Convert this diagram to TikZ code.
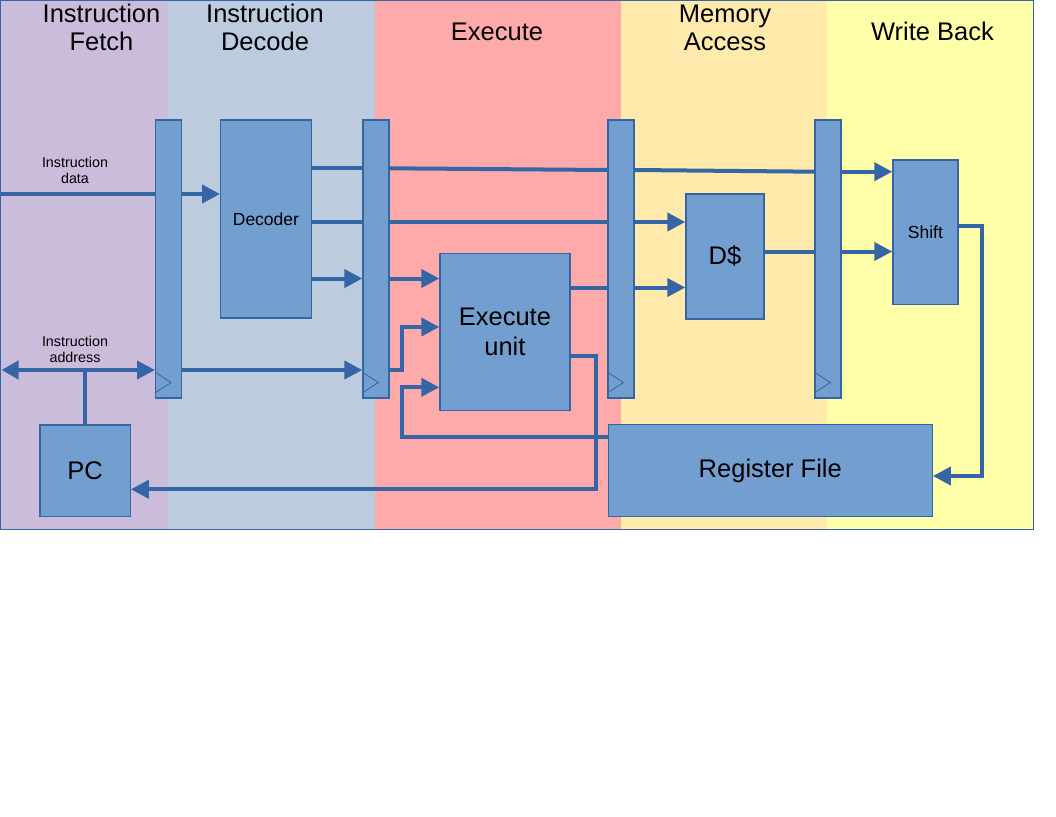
\documentclass[tikz,border=0pt]{standalone}
\usepackage{fontspec}
\setmainfont{Liberation Sans}
\usetikzlibrary{arrows.meta,calc}
\definecolor{lineblue}{HTML}{3465A4}
\definecolor{boxfill}{HTML}{729FCF}
\definecolor{bandIF}{HTML}{CBBCDC}
\definecolor{bandID}{HTML}{BCCCDE}
\definecolor{bandEX}{HTML}{FFAAAA}
\definecolor{bandMEM}{HTML}{FFE9AB}
\definecolor{bandWB}{HTML}{FFFFAA}
\begin{document}
\begin{tikzpicture}[x=1pt,y=-1pt,
  box/.style={draw=lineblue, fill=boxfill, line width=1.2pt, inner sep=0pt, anchor=north west},
  preg/.style={box, minimum width=26pt, minimum height=278pt},
  wire/.style={draw=lineblue, line width=4pt},
  arr/.style={wire, -{Triangle[length=18pt,width=18pt]}},
  darr/.style={wire, {Triangle[length=17pt,width=18pt]}-{Triangle[length=18pt,width=18pt]}},
  clk/.style={draw=lineblue, line width=0.8pt},
  title/.style={font=\fontsize{25.5}{28}\selectfont, align=center, inner sep=0pt},
  big/.style={font=\fontsize{25.5}{29.3}\selectfont, align=center},
  mid/.style={font=\fontsize{17.5}{21}\selectfont},
  small/.style={font=\fontsize{14.3}{16.3}\selectfont, align=center, inner sep=0pt}
]
\useasboundingbox (0,0) rectangle (1056,816);
\fill[white] (0,0) rectangle (1056,816);
% stage bands
\fill[bandIF]  (0,0) rectangle (167.7,529);
\fill[bandID]  (167.7,0) rectangle (374.7,529);
\fill[bandEX]  (374.7,0) rectangle (620.7,529);
\fill[bandMEM] (620.7,0) rectangle (827,529);
\fill[bandWB]  (827,0) rectangle (1033.5,529);
\draw[lineblue, line width=1pt] (0.7,0.5) rectangle (1033.5,529);
% titles
\node[title] (tIF)  at (101.5,27.6) {Instruction\\Fetch};
\node[title] (tID)  at (265,27.6) {Instruction\\Decode};
\node[title] (tEX)  at (497,31.6) {Execute};
\node[title] (tMEM) at (725,27.6) {Memory\\Access};
\node[title] (tWB)  at (932.5,31.6) {Write Back};
% pipeline registers
\node[preg] (bar1) at (155,119.3) {};
\node[preg] (bar2) at (362.3,119.3) {};
\node[preg] (bar3) at (607.3,119.3) {};
\node[preg] (bar4) at (814.3,119.3) {};
\foreach \b in {bar1,bar2,bar3,bar4}{
  \draw[clk] ($(\b.south west)+(0,-5.5)$) -- ++(16,-10.5) -- ++(-16,-10.5);
}
% functional blocks
\node[box, minimum width=90.7pt, minimum height=198pt, mid] (dec) at (220,119.3) {Decoder};
\node[box, minimum width=130pt, minimum height=157.3pt, big] (ex) at (439.3,252.7) {Execute\\unit};
\node[box, minimum width=78pt, minimum height=125pt, big] (dc) at (685.3,193.3) {D\$};
\node[box, minimum width=65pt, minimum height=144.7pt, mid] (shift) at (892.3,159.3) {Shift};
\node[box, minimum width=324pt, minimum height=92pt, big] (rf) at (607.7,424) {Register File};
\node[box, minimum width=90.4pt, minimum height=91.7pt, big] (pc) at (39.3,424.3) {PC};
% labels
\node[small] (ldata) at (75,170.7) {Instruction\\data};
\node[small] (laddr) at (75,349.3) {Instruction\\address};
% level coordinates
\coordinate (dataL) at (1,194);
\coordinate (addrL) at (1.5,370);
\coordinate (yD) at (0,194);
\coordinate (yA1) at (0,168.3);
\coordinate (yA2) at (0,170);
\coordinate (yA3) at (0,171.7);
\coordinate (yB) at (0,222);
\coordinate (yC) at (0,278.5);
\coordinate (yE) at (0,287.5);
\coordinate (yF) at (0,251.5);
\coordinate (yAd) at (0,370);
\coordinate (yH) at (0,437);
\coordinate (yI) at (0,355.5);
\coordinate (yJ) at (0,225.5);
\coordinate (j1) at (401.5,327);
\coordinate (j2) at (401.5,387.3);
\coordinate (j3) at (595.5,489.3);
\coordinate (j4) at (982,476);
% instruction data path
\draw[wire] (dataL) -- (bar1.west |- yD);
\draw[arr] (bar1.east |- yD) -- (dec.west |- yD);
% decoder outputs
\draw[wire] (dec.east |- yA1) -- (bar2.west |- yA1);
\draw[wire] (bar2.east |- yA1) -- (bar3.west |- yA2);
\draw[wire] (bar3.east |- yA2) -- (bar4.west |- yA3);
\draw[arr] (bar4.east |- yA3) -- (shift.west |- yA3);
\draw[wire] (dec.east |- yB) -- (bar2.west |- yB);
\draw[wire] (bar2.east |- yB) -- (bar3.west |- yB);
\draw[arr] (bar3.east |- yB) -- (dc.west |- yB);
\draw[arr] (dec.east |- yC) -- (bar2.west |- yC);
\draw[arr] (bar2.east |- yC) -- (ex.west |- yC);
% execute outputs
\draw[wire] (ex.east |- yE) -- (bar3.west |- yE);
\draw[arr] (bar3.east |- yE) -- (dc.west |- yE);
\draw[wire] (dc.east |- yF) -- (bar4.west |- yF);
\draw[arr] (bar4.east |- yF) -- (shift.west |- yF);
% instruction address
\draw[darr] (addrL) -- (bar1.west |- yAd);
\draw[wire] (pc.north) -- (pc.north |- yAd);
\draw[arr] (bar1.east |- yAd) -- (bar2.west |- yAd);
\draw[arr] (bar2.east |- yAd) -| (j1) -- (ex.west |- j1);
% register file feedback
\draw[arr] (rf.west |- yH) -| (j2) -- (ex.west |- j2);
% execute to PC
\draw[arr] (ex.east |- yI) -| (j3) -- (pc.east |- j3);
% shift to register file
\draw[arr] (shift.east |- yJ) -| (j4) -- (rf.east |- j4);
\end{tikzpicture}
\end{document}
